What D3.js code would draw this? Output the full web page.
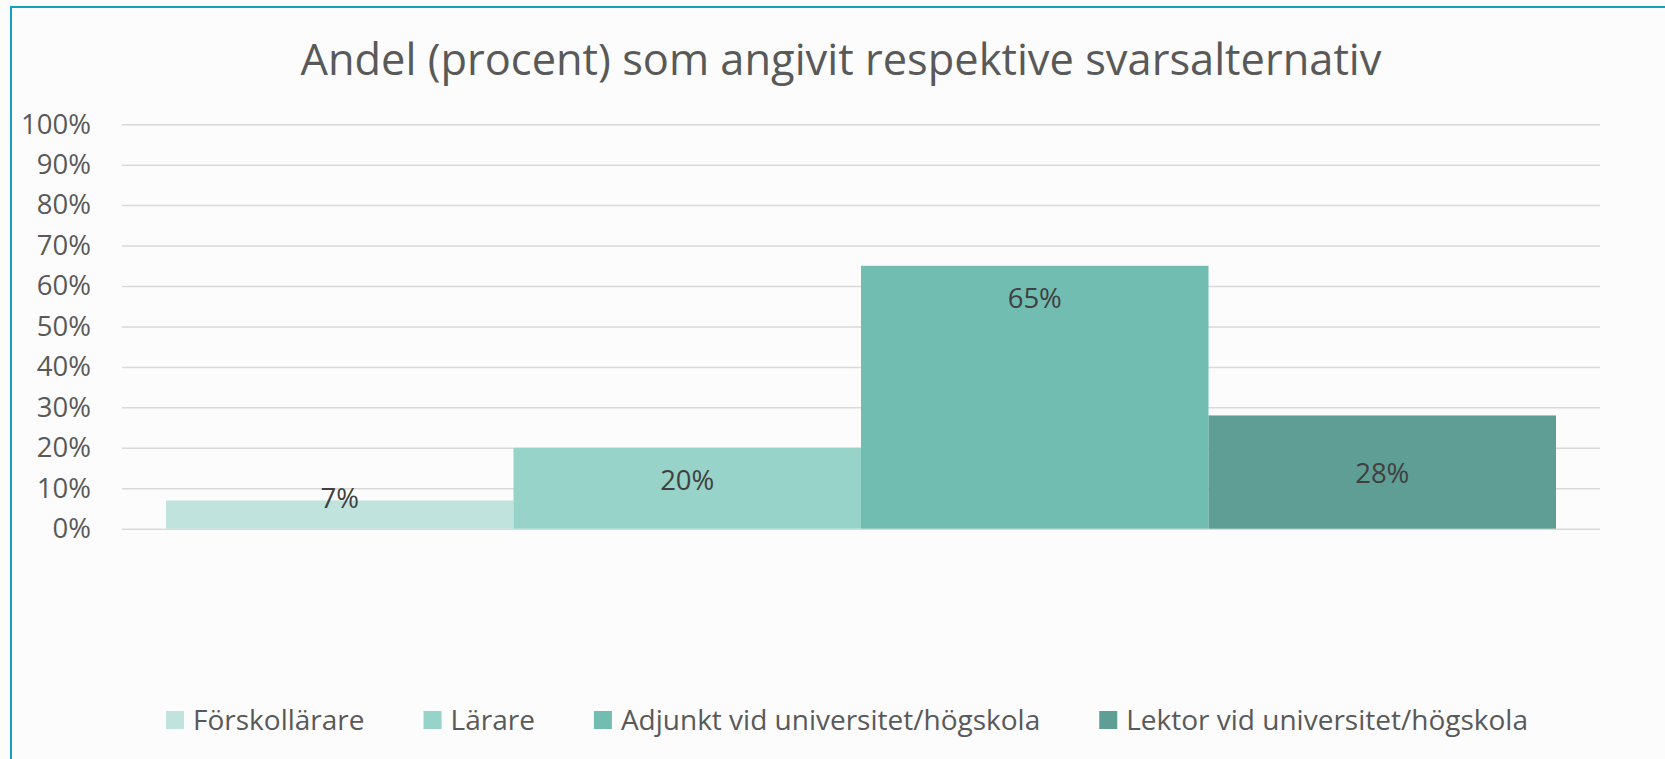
<!DOCTYPE html>
<html>
<head>
<meta charset="utf-8">
<script src="https://cdn.jsdelivr.net/npm/d3@7"></script>
<style>
	html, body { margin: 0; padding: 0; background: #fcfcfc; }
	svg { display: block; font-family: "Open Sans", sans-serif; }
</style>
</head>
<body>
<svg id="chart"></svg>
<script>
var W = 1665, H = 759;

// data
var series = ['Förskollärare', 'Lärare', 'Adjunkt vid universitet/högskola', 'Lektor vid universitet/högskola'];
var values = [0.07, 0.20, 0.65, 0.28];
var labelAt = [0.076, 0.12, 0.57, 0.138]; // where each data label sits, in axis units
var yTicks = [0, 0.1, 0.2, 0.3, 0.4, 0.5, 0.6, 0.7, 0.8, 0.9, 1.0];
var colors = ['#c1e3dd', '#97d3c8', '#72bdb2', '#5f9e94'];
var title = 'Andel (procent) som angivit respektive svarsalternativ';

var svg = d3.select('#chart').attr('width', W).attr('height', H);

svg.append('rect')
	.attr('width', W)
	.attr('height', H)
	.attr('fill', '#fcfcfc');

// chart frame (only top and left are visible in the crop)
svg.append('path')
	.attr('d', 'M11,' + H + 'V7H' + W)
	.attr('fill', 'none')
	.attr('stroke', '#13a1bc')
	.attr('stroke-width', 2);

var plot = { left: 122, right: 1600, top: 124.2, bottom: 528.7 };

var x = d3.scaleBand()
	.domain(series)
	.range([plot.left, plot.right])
	.paddingInner(0)
	.paddingOuter(0.1266);

var y = d3.scaleLinear()
	.domain([0, 1])
	.range([plot.bottom, plot.top]);

// grid
var grid = svg.append('g')
	.attr('transform', 'translate(' + plot.left + ',0)')
	.call(d3.axisLeft(y).tickValues(yTicks).tickSize(-(plot.right - plot.left)).tickFormat(''));
grid.select('.domain').remove();
grid.selectAll('line').attr('stroke', '#d9d9d9').attr('stroke-width', 1.5);

// y labels
var yAxis = svg.append('g')
	.attr('transform', 'translate(' + plot.left + ',0)')
	.call(d3.axisLeft(y).tickValues(yTicks).tickSize(0).tickPadding(31).tickFormat(d3.format('.0%')));
yAxis.select('.domain').remove();
yAxis.selectAll('text')
	.attr('font-family', '"Open Sans", sans-serif')
	.attr('font-size', 27.5)
	.attr('fill', '#595959');

// bars
svg.append('g').selectAll('rect')
	.data(values)
	.join('rect')
	.attr('x', function(d, i){ return x(series[i]); })
	.attr('y', function(d){ return y(d); })
	.attr('width', x.bandwidth())
	.attr('height', function(d){ return y(0) - y(d); })
	.attr('fill', function(d, i){ return colors[i]; });

// data labels
svg.append('g').selectAll('text')
	.data(values)
	.join('text')
	.attr('x', function(d, i){ return x(series[i]) + x.bandwidth() / 2; })
	.attr('y', function(d, i){ return y(labelAt[i]); })
	.attr('dy', '0.36em')
	.attr('text-anchor', 'middle')
	.attr('font-size', 27.5)
	.attr('fill', '#404040')
	.text(function(d){ return d3.format('.0%')(d); });

// title
svg.append('text')
	.attr('x', 841)
	.attr('y', 75)
	.attr('text-anchor', 'middle')
	.attr('font-size', 43.4)
	.attr('fill', '#595959')
	.text(title);

// legend
var legend = svg.append('g');
var cx = 0;
series.forEach(function(name, i){
	var item = legend.append('g').attr('transform', 'translate(' + cx + ',0)');
	item.append('rect')
		.attr('x', 0)
		.attr('y', -9)
		.attr('width', 18)
		.attr('height', 18)
		.attr('fill', colors[i]);
	var t = item.append('text')
		.attr('x', 27)
		.attr('y', 0)
		.attr('dy', '0.36em')
		.attr('font-size', 28)
		.attr('fill', '#595959')
		.text(name);
	cx += 27 + t.node().getComputedTextLength() + 59;
});
var legendWidth = cx - 59;
legend.attr('transform', 'translate(' + (847 - legendWidth / 2) + ',720)');
</script>
</body>
</html>
